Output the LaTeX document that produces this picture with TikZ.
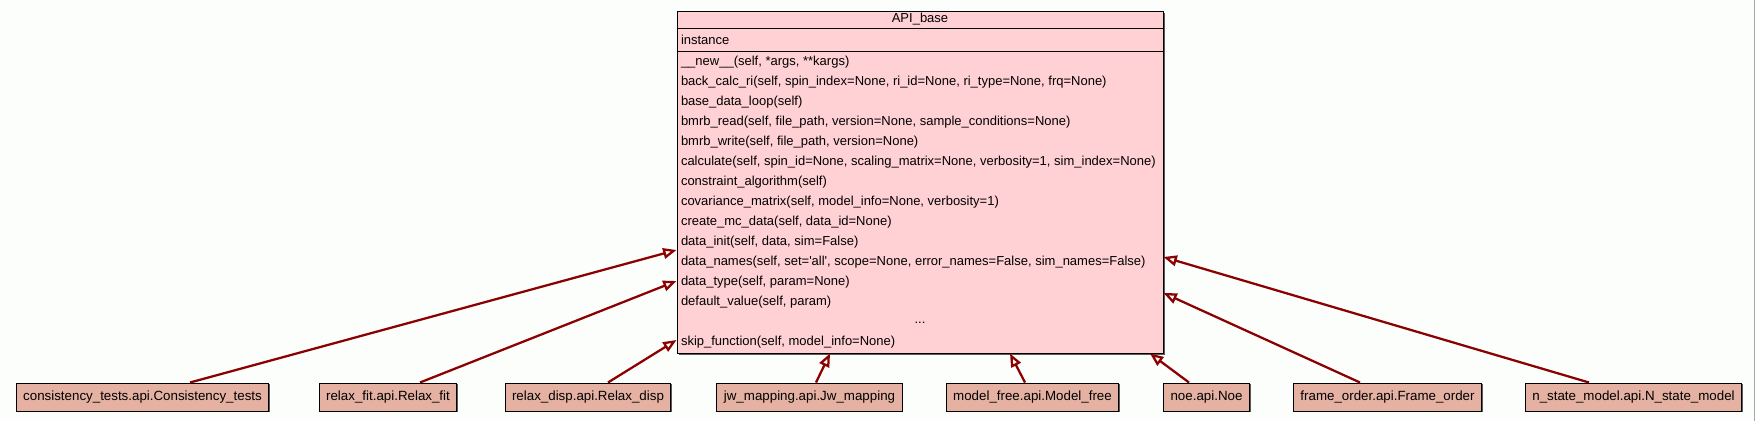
\documentclass[tikz,border=0pt]{standalone}
\usepackage{fontspec}
\setmainfont{Liberation Sans}
\usepackage{tikz}
\usetikzlibrary{positioning,shadows,arrows.meta}
\definecolor{classpink}{HTML}{FFD0D4}
\definecolor{subpink}{HTML}{E4B1A3}
\definecolor{inheritred}{HTML}{8B0000}
\definecolor{paper}{HTML}{FCFEFC}
\tikzset{d/.style={line width=0.75pt}}

\begin{document}
\begin{tikzpicture}[x=0.75pt,y=-0.75pt,
classbox/.style={d, draw=black, fill=classpink, minimum width=364.5pt, minimum height=256.5pt, inner sep=0pt,
  drop shadow={shadow xshift=1.2pt, shadow yshift=-1.2pt, fill=black!65, opacity=1}},
subbox/.style={d, draw=black, fill=subpink, minimum height=21pt, inner xsep=5.25pt, inner ysep=0pt,
  font=\fontsize{10}{12}\selectfont,
  drop shadow={shadow xshift=0.8pt, shadow yshift=-0.8pt, fill=black!65, opacity=1}},
methodrow/.style={inner sep=0pt, outer sep=0pt, minimum height=15pt, font=\fontsize{9.75}{12}\selectfont, anchor=west},
inh/.style={draw=inheritred, line width=1.7pt, -{Triangle[open, length=10pt, width=8pt]}},
]
\fill[paper] (0,0) rectangle (1755,421);
\useasboundingbox (0,0) rectangle (1755,421);
\draw[gray!70, d] (1754.5,0) -- (1754.5,421);

%Nodes
\node[classbox] (base) at (920,182) {};
\draw[d] (base.west |- 0,28) -- (base.east |- 0,28);
\draw[d] (base.west |- 0,51) -- (base.east |- 0,51);
\node[methodrow, anchor=center] (title) at (920,19.5) {API\_base};
\node[methodrow] (attr) at (681,39.5) {instance};

\node[methodrow] (m1) at (681,62) {\_\_new\_\_(self, *args, **kargs)};
\node[methodrow] (m2) [below=0pt of m1.south west, anchor=north west] {back\_calc\_ri(self, spin\_index=None, ri\_id=None, ri\_type=None, frq=None)};
\node[methodrow] (m3) [below=0pt of m2.south west, anchor=north west] {base\_data\_loop(self)};
\node[methodrow] (m4) [below=0pt of m3.south west, anchor=north west] {bmrb\_read(self, file\_path, version=None, sample\_conditions=None)};
\node[methodrow] (m5) [below=0pt of m4.south west, anchor=north west] {bmrb\_write(self, file\_path, version=None)};
\node[methodrow] (m6) [below=0pt of m5.south west, anchor=north west] {calculate(self, spin\_id=None, scaling\_matrix=None, verbosity=1, sim\_index=None)};
\node[methodrow] (m7) [below=0pt of m6.south west, anchor=north west] {constraint\_algorithm(self)};
\node[methodrow] (m8) [below=0pt of m7.south west, anchor=north west] {covariance\_matrix(self, model\_info=None, verbosity=1)};
\node[methodrow] (m9) [below=0pt of m8.south west, anchor=north west] {create\_mc\_data(self, data\_id=None)};
\node[methodrow] (m10) [below=0pt of m9.south west, anchor=north west] {data\_init(self, data, sim=False)};
\node[methodrow] (m11) [below=0pt of m10.south west, anchor=north west] {data\_names(self, set=\textquotesingle all\textquotesingle, scope=None, error\_names=False, sim\_names=False)};
\node[methodrow] (m12) [below=0pt of m11.south west, anchor=north west] {data\_type(self, param=None)};
\node[methodrow] (m13) [below=0pt of m12.south west, anchor=north west] {default\_value(self, param)};
\node[methodrow, anchor=center] (dots) at (920,323) {...};
\node[methodrow] (m14) [below=0pt of m13.south west, yshift=-15pt, anchor=north west] {skip\_function(self, model\_info=None)};

\node[subbox] (cons)      at (142.5,397) {consistency\_tests.api.Consistency\_tests};
\node[subbox] (relaxfit)  at (388,397)   {relax\_fit.api.Relax\_fit};
\node[subbox] (relaxdisp) at (588,397)   {relax\_disp.api.Relax\_disp};
\node[subbox] (jw)        at (809.5,397) {jw\_mapping.api.Jw\_mapping};
\node[subbox] (modelfree) at (1032.5,397) {model\_free.api.Model\_free};
\node[subbox] (noe)       at (1206.5,397) {noe.api.Noe};
\node[subbox] (frame)     at (1387.5,397) {frame\_order.api.Frame\_order};
\node[subbox] (nstate)    at (1633.5,397) {n\_state\_model.api.N\_state\_model};

%Lines
\draw[inh] (cons.north -| 190,0) -- (base.west |- 0,250);
\draw[inh] (relaxfit.north -| 420,0) -- (base.west |- 0,281);
\draw[inh] (relaxdisp.north -| 608,0) -- (base.west |- 0,340);
\draw[inh] (jw.north -| 816,0) -- (base.south -| 830,0);
\draw[inh] (modelfree.north -| 1025,0) -- (base.south -| 1010,0);
\draw[inh] (noe.north -| 1189,0) -- (base.south -| 1150,0);
\draw[inh] (frame.north -| 1360,0) -- (base.east |- 0,293);
\draw[inh] (nstate.north -| 1589,0) -- (base.east |- 0,257);
\end{tikzpicture}
\end{document}
